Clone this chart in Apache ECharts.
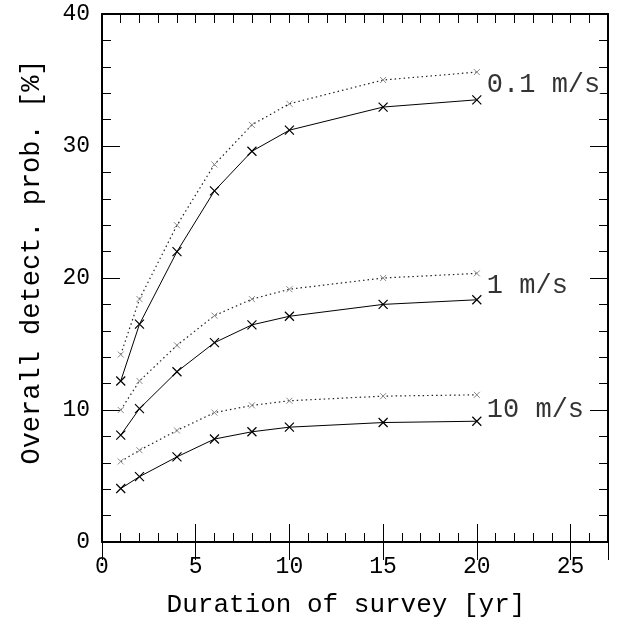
<!DOCTYPE html>
<html>
<head>
<meta charset="utf-8">
<script src="https://cdn.jsdelivr.net/npm/echarts@6/dist/echarts.min.js"></script>
<style>
  html, body { margin: 0; padding: 0; background: #fff; }
  #chart { width: 637px; height: 623px; }
</style>
</head>
<body>
<div id="chart"></div>
<script>
// survey durations [yr]
const years = [1, 2, 4, 6, 8, 10, 15, 20];

// solid lines (x markers) and dotted lines, per RV precision
const solid01 = [12.2, 16.5, 22.0, 26.6, 29.6, 31.2, 32.95, 33.5];
const dotted01 = [14.2, 18.4, 24.0, 28.6, 31.6, 33.2, 35.0, 35.6];
const solid1 = [8.1, 10.1, 12.9, 15.1, 16.45, 17.1, 18.0, 18.35];
const dotted1 = [10.0, 12.2, 14.9, 17.15, 18.4, 19.15, 20.0, 20.35];
const solid10 = [4.05, 4.95, 6.45, 7.8, 8.35, 8.7, 9.05, 9.15];
const dotted10 = [6.1, 6.95, 8.45, 9.8, 10.35, 10.7, 11.05, 11.15];

// curve labels
const curveLabels = ['0.1 m/s', '1 m/s', '10 m/s'];
const labelY = [34.6, 19.4, 10.0];

const FONT = 'Liberation Mono';
const crossPath = 'path://M0,0L10,10M10,0L0,10';

const pairs = (ys) => years.map((x, i) => [x, ys[i]]);

const solidSeries = (name, ys) => ({
  name,
  type: 'line',
  data: pairs(ys),
  symbol: crossPath,
  symbolSize: 9,
  lineStyle: { color: '#000', width: 1 },
  itemStyle: { color: '#000', borderColor: '#000', borderWidth: 1.2 },
  animation: false,
  z: 3,
});

const dottedSeries = (name, ys) => ({
  name,
  type: 'line',
  data: pairs(ys),
  symbol: crossPath,
  symbolSize: 6,
  lineStyle: { color: '#222', width: 1.2, type: [1.5, 3] },
  itemStyle: { color: '#888', borderColor: '#888', borderWidth: 1 },
  animation: false,
  z: 3,
});

const baseX = {
  type: 'value',
  min: 0,
  max: 27,
  splitLine: { show: false },
};

const chart = echarts.init(document.getElementById('chart'));

chart.setOption({
  backgroundColor: '#fff',
  grid: { left: 102, right: 29, top: 14, bottom: 80 },
  xAxis: [
    {
      ...baseX,
      position: 'bottom',
      interval: 1,
      name: 'Duration of survey [yr]',
      nameLocation: 'middle',
      nameGap: 50,
      nameTextStyle: { fontFamily: FONT, fontSize: 26, color: '#000', padding: [0, 18, 0, 0] },
      axisLine: { show: true, onZero: false, lineStyle: { color: '#000', width: 2 } },
      axisTick: { show: true, inside: true, length: 9, lineStyle: { color: '#000', width: 1 } },
      axisLabel: {
        margin: 13,
        fontFamily: FONT,
        fontSize: 23,
        color: '#000',
        formatter: v => (v % 5 === 0 ? String(v) : ''),
      },
    },
    {
      ...baseX,
      position: 'bottom',
      interval: 5,
      axisLine: { show: false },
      axisTick: { show: true, inside: true, length: 18, lineStyle: { color: '#000', width: 1 } },
      axisLabel: { show: false },
    },
    {
      ...baseX,
      position: 'top',
      interval: 1,
      axisLine: { show: true, onZero: false, lineStyle: { color: '#000', width: 2 } },
      axisTick: { show: true, inside: true, length: 9, lineStyle: { color: '#000', width: 1 } },
      axisLabel: { show: false },
    },
    {
      ...baseX,
      position: 'top',
      interval: 5,
      axisLine: { show: false },
      axisTick: { show: true, inside: true, length: 18, lineStyle: { color: '#000', width: 1 } },
      axisLabel: { show: false },
    },
  ],
  yAxis: [
    {
      type: 'value',
      position: 'left',
      min: 0,
      max: 40,
      interval: 10,
      name: 'Overall detect. prob. [%]',
      nameLocation: 'middle',
      nameGap: 57,
      nameTextStyle: { fontFamily: FONT, fontSize: 27, color: '#000', padding: [0, 0, 0, 32] },
      axisLine: { show: true, onZero: false, lineStyle: { color: '#000', width: 2 } },
      axisTick: { show: true, inside: true, length: 18, lineStyle: { color: '#000', width: 1 } },
      minorTick: { show: true, splitNumber: 5, length: 9, lineStyle: { color: '#000', width: 1 } },
      axisLabel: { margin: 12, fontFamily: FONT, fontSize: 23, color: '#000' },
      splitLine: { show: false },
    },
    {
      type: 'value',
      position: 'right',
      min: 0,
      max: 40,
      interval: 10,
      axisLine: { show: true, onZero: false, lineStyle: { color: '#000', width: 2 } },
      axisTick: { show: true, inside: true, length: 18, lineStyle: { color: '#000', width: 1 } },
      minorTick: { show: true, splitNumber: 5, length: 9, lineStyle: { color: '#000', width: 1 } },
      axisLabel: { show: false },
      splitLine: { show: false },
    },
  ],
  series: [
    dottedSeries('0.1 dotted', dotted01),
    solidSeries('0.1 solid', solid01),
    dottedSeries('1 dotted', dotted1),
    solidSeries('1 solid', solid1),
    dottedSeries('10 dotted', dotted10),
    solidSeries('10 solid', solid10),
    {
      name: 'labels',
      type: 'scatter',
      symbolSize: 0,
      data: curveLabels.map((t, i) => ({ value: [20, labelY[i]], name: t })),
      label: {
        show: true,
        position: 'right',
        distance: 10,
        formatter: p => p.name,
        fontFamily: FONT,
        fontSize: 27,
        color: '#000',
        backgroundColor: '#fff',
      },
      animation: false,
      z: 5,
    },
  ],
});

window.addEventListener('resize', () => chart.resize());
</script>
</body>
</html>
